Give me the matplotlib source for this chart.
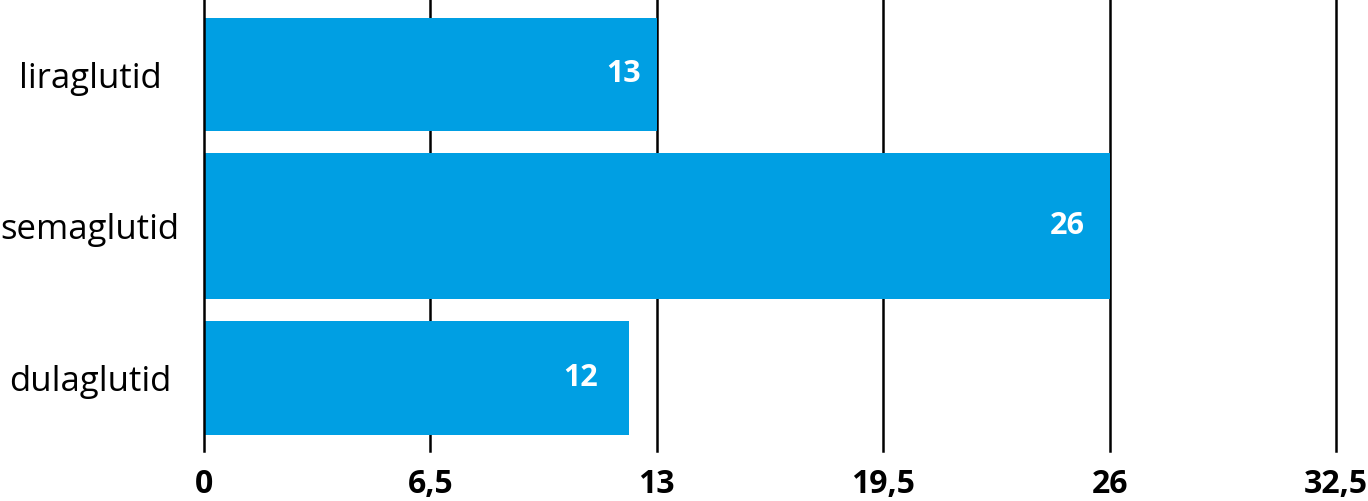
import matplotlib
matplotlib.use("Agg")
import matplotlib.pyplot as plt

# data
categories = ["liraglutid", "semaglutid", "dulaglutid"]
values = [13, 26, 12.2]
value_labels = ["13", "26", "12"]
xticks = [0, 6.5, 13, 19.5, 26, 32.5]
xtick_labels = ["0", "6,5", "13", "19,5", "26", "32,5"]

# layout (pixel-like units on the y axis)
bar_centers = [74.5, 226, 378]
bar_heights = [113, 146, 114]
label_gaps_px = [16, 25, 31]
BAR_COLOR = "#009FE3"

plt.rcParams['font.family'] = ['Open Sans', 'DejaVu Sans']

W, H = 1368, 501
fig = plt.figure(figsize=(W / 100, H / 100), dpi=100)
ax_left, ax_right = 204 / W, 1336 / W
ax_top, ax_bottom = 0, 451
ax = fig.add_axes([ax_left, 1 - ax_bottom / H, ax_right - ax_left, (ax_bottom - ax_top) / H])

ax.set_xlim(0, 32.5)
ax.set_ylim(451, 0)

for x in xticks:
    ax.axvline(x, color="black", lw=1.8, zorder=1 if x != 0 else 3, clip_on=False)

ax.barh(bar_centers, values, height=bar_heights, color=BAR_COLOR, zorder=2)

for c, v, lab, g in zip(bar_centers, values, value_labels, label_gaps_px):
    ax.annotate(lab, xy=(v, c), xytext=(-g * 0.72, 0), textcoords="offset points",
                ha="right", va="center", color="white", fontsize=22, fontweight="bold")

ax.set_yticks(bar_centers)
ax.set_yticklabels(categories, fontsize=25, ha="center")
ax.set_xticks(xticks)
ax.set_xticklabels(xtick_labels, fontsize=23, fontweight="bold")
ax.tick_params(axis="both", length=0)
ax.tick_params(axis="x", pad=12)
ax.tick_params(axis="y", pad=114 * 0.72)
for s in ax.spines.values():
    s.set_visible(False)

fig.savefig("out.png", dpi=100)
